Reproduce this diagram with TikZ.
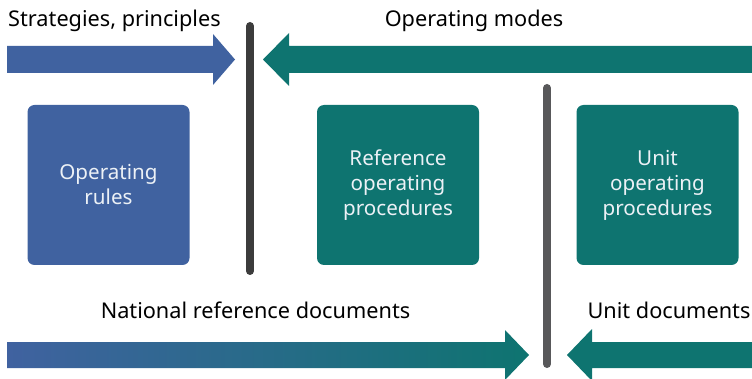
\documentclass[tikz,border=0pt]{standalone}
\usepackage{fontspec}
\setmainfont{Noto Sans}
\definecolor{cblue}{RGB}{64,98,160}
\definecolor{cteal}{RGB}{14,116,112}
\definecolor{bardark}{RGB}{60,60,60}
\definecolor{bargrey}{RGB}{88,88,90}
\definecolor{boxtext}{RGB}{236,241,246}
\begin{document}
\begin{tikzpicture}[x=1pt,y=-1pt,
  box/.style={rounded corners=7pt, minimum width=162pt, minimum height=160pt,
    text=boxtext, align=center, font=\fontsize{20.6}{25}\selectfont, inner sep=0pt},
  lbl/.style={font=\fontsize{21.7}{24}\selectfont, anchor=base, text=black, inner sep=0pt},
  bar/.style={line width=8pt, line cap=round}]
\useasboundingbox (0,0) rectangle (752,379);
% top arrows
\fill[cblue] (7,46) -- (213,46) -- (213,34) -- (235,59.5) -- (213,85) -- (213,73) -- (7,73) -- cycle;
\fill[cteal] (752,46) -- (289,46) -- (289,33) -- (263,59.5) -- (289,86) -- (289,73) -- (752,73) -- cycle;
% bottom arrows
\shade[left color=cblue, right color=cteal] (7,342) -- (505,342) -- (505,330) -- (529,355) -- (505,380) -- (505,368) -- (7,368) -- cycle;
\fill[cteal] (752,342) -- (592,342) -- (592,329) -- (567,355) -- (592,381) -- (592,368) -- (752,368) -- cycle;
% bars
\coordinate (b1t) at (250,26);
\coordinate (b1b) at (250,271);
\coordinate (b2t) at (547,88);
\coordinate (b2b) at (547,364);
\draw[bar, bardark] (b1t) -- (b1b);
\draw[bar, bargrey] (b2t) -- (b2b);
% boxes
\node[box, fill=cblue] (rules) at (108.5,185) {Operating\\rules};
\node[box, fill=cteal] (refproc) at (398,185) {Reference\\operating\\procedures};
\node[box, fill=cteal] (unitproc) at (657.5,185) {Unit\\operating\\procedures};
% labels
\node[lbl, anchor=base west] (strat) at (8,27) {Strategies, principles};
\node[lbl] (modes) at (474,27) {Operating modes};
\node[lbl] (natdoc) at (255.5,318) {National reference documents};
\node[lbl] (unitdoc) at (669,318) {Unit documents};
\end{tikzpicture}
\end{document}
